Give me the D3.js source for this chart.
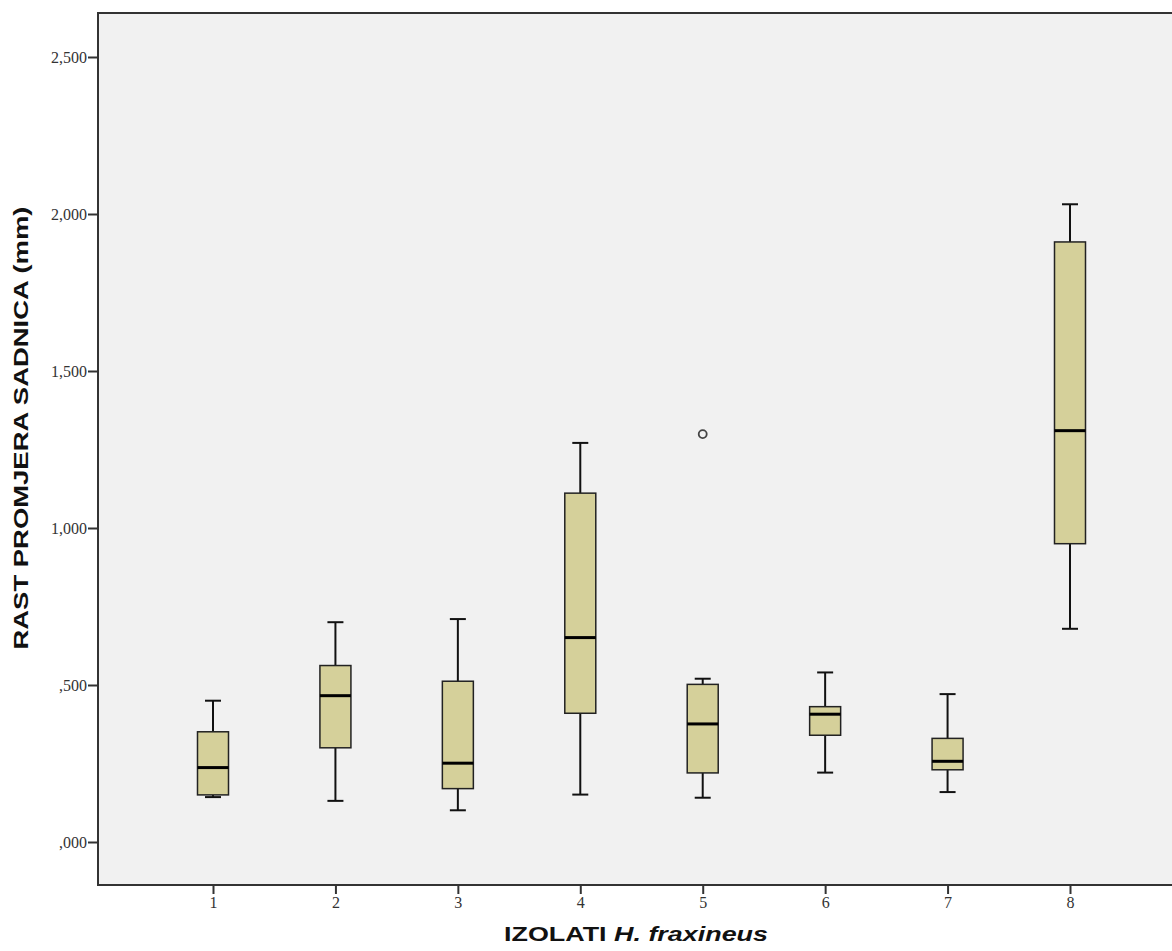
<!DOCTYPE html>
<html><head><meta charset="utf-8">
<script src="https://cdn.jsdelivr.net/npm/d3@7"></script>
<style>body{margin:0;background:#fff;overflow:hidden}svg{display:block}</style>
</head><body>
<script>
const categories = ["1","2","3","4","5","6","7","8"];
const whiskerLow  = [0.143, 0.131, 0.101, 0.151, 0.141, 0.221, 0.159, 0.679];
const q1          = [0.150, 0.300, 0.170, 0.410, 0.220, 0.340, 0.230, 0.950];
const median      = [0.237, 0.466, 0.251, 0.651, 0.376, 0.407, 0.257, 1.310];
const q3          = [0.351, 0.562, 0.512, 1.111, 0.502, 0.431, 0.330, 1.911];
const whiskerHigh = [0.450, 0.700, 0.710, 1.271, 0.520, 0.540, 0.471, 2.031];
const outliers = [{cat:"5", value:1.299}];
const yTicks = [0, 0.5, 1.0, 1.5, 2.0, 2.5];
const yTickLabels = [",000", ",500", "1,000", "1,500", "2,000", "2,500"];

const W = 1172, H = 951;
const svg = d3.select("body").append("svg").attr("width", W).attr("height", H);
const frame = {left: 98, top: 13, right: 1180, bottom: 885};

const x = d3.scalePoint().domain(categories).range([213, 1070]);
const y = d3.scaleLinear().domain([0, 2.5]).range([842, 57]);

svg.append("rect").attr("x", frame.left).attr("y", frame.top)
  .attr("width", frame.right - frame.left).attr("height", frame.bottom - frame.top)
  .attr("fill", "#f1f1f1").attr("stroke", "#333").attr("stroke-width", 2);

// Y axis
const yAxis = d3.axisLeft(y).tickValues(yTicks).tickSize(10).tickPadding(1)
  .tickFormat((d, i) => yTickLabels[i]);
const ga = svg.append("g").attr("transform", `translate(${frame.left},0)`).call(yAxis);
ga.select(".domain").remove();
ga.selectAll(".tick line").attr("stroke", "#333").attr("stroke-width", 2);
ga.selectAll(".tick text").attr("font-family", "Liberation Serif, serif").attr("font-size", 16).attr("fill", "#333");

// X axis
const xAxis = d3.axisBottom(x).tickSize(9).tickPadding(3);
const gx = svg.append("g").attr("transform", `translate(0,${frame.bottom})`).call(xAxis);
gx.select(".domain").remove();
gx.selectAll(".tick line").attr("stroke", "#333").attr("stroke-width", 2);
gx.selectAll(".tick text").attr("font-family", "Liberation Serif, serif").attr("font-size", 16).attr("fill", "#333");

const bw = 31, cw = 16;
const data = categories.map((c, i) => ({c, lo: whiskerLow[i], q1: q1[i], med: median[i], q3: q3[i], hi: whiskerHigh[i]}));
const g = svg.append("g");
data.forEach(d => {
  const cx = x(d.c);
  g.append("line").attr("x1", cx).attr("x2", cx).attr("y1", y(d.hi)).attr("y2", y(d.q3)).attr("stroke", "#111").attr("stroke-width", 2);
  g.append("line").attr("x1", cx).attr("x2", cx).attr("y1", y(d.q1)).attr("y2", y(d.lo)).attr("stroke", "#111").attr("stroke-width", 2);
  g.append("line").attr("x1", cx - cw/2).attr("x2", cx + cw/2).attr("y1", y(d.hi)).attr("y2", y(d.hi)).attr("stroke", "#111").attr("stroke-width", 2);
  g.append("line").attr("x1", cx - cw/2).attr("x2", cx + cw/2).attr("y1", y(d.lo)).attr("y2", y(d.lo)).attr("stroke", "#111").attr("stroke-width", 2);
  g.append("rect").attr("x", cx - bw/2).attr("width", bw).attr("y", y(d.q3)).attr("height", y(d.q1) - y(d.q3))
    .attr("fill", "#d5d09a").attr("stroke", "#222").attr("stroke-width", 1.5);
  g.append("line").attr("x1", cx - bw/2).attr("x2", cx + bw/2).attr("y1", y(d.med)).attr("y2", y(d.med)).attr("stroke", "#000").attr("stroke-width", 3);
});
outliers.forEach(o => {
  g.append("circle").attr("cx", x(o.cat)).attr("cy", y(o.value)).attr("r", 4)
    .attr("fill", "none").attr("stroke", "#444").attr("stroke-width", 1.8);
});

// Titles
svg.append("text").attr("transform", "translate(28,428) rotate(-90)").attr("text-anchor", "middle")
  .attr("font-family", "Liberation Sans, Arial, sans-serif").attr("font-weight", "bold").attr("font-size", 21).attr("fill", "#111")
  .attr("textLength", 443).attr("lengthAdjust", "spacingAndGlyphs")
  .text("RAST PROMJERA SADNICA (mm)");
const xt = svg.append("text").attr("x", 636).attr("y", 941).attr("text-anchor", "middle")
  .attr("font-family", "Liberation Sans, Arial, sans-serif").attr("font-weight", "bold").attr("font-size", 21).attr("fill", "#111")
  .attr("textLength", 264).attr("lengthAdjust", "spacingAndGlyphs");
xt.append("tspan").text("IZOLATI ");
xt.append("tspan").attr("font-style", "italic").text("H. fraxineus");
</script>
</body></html>
